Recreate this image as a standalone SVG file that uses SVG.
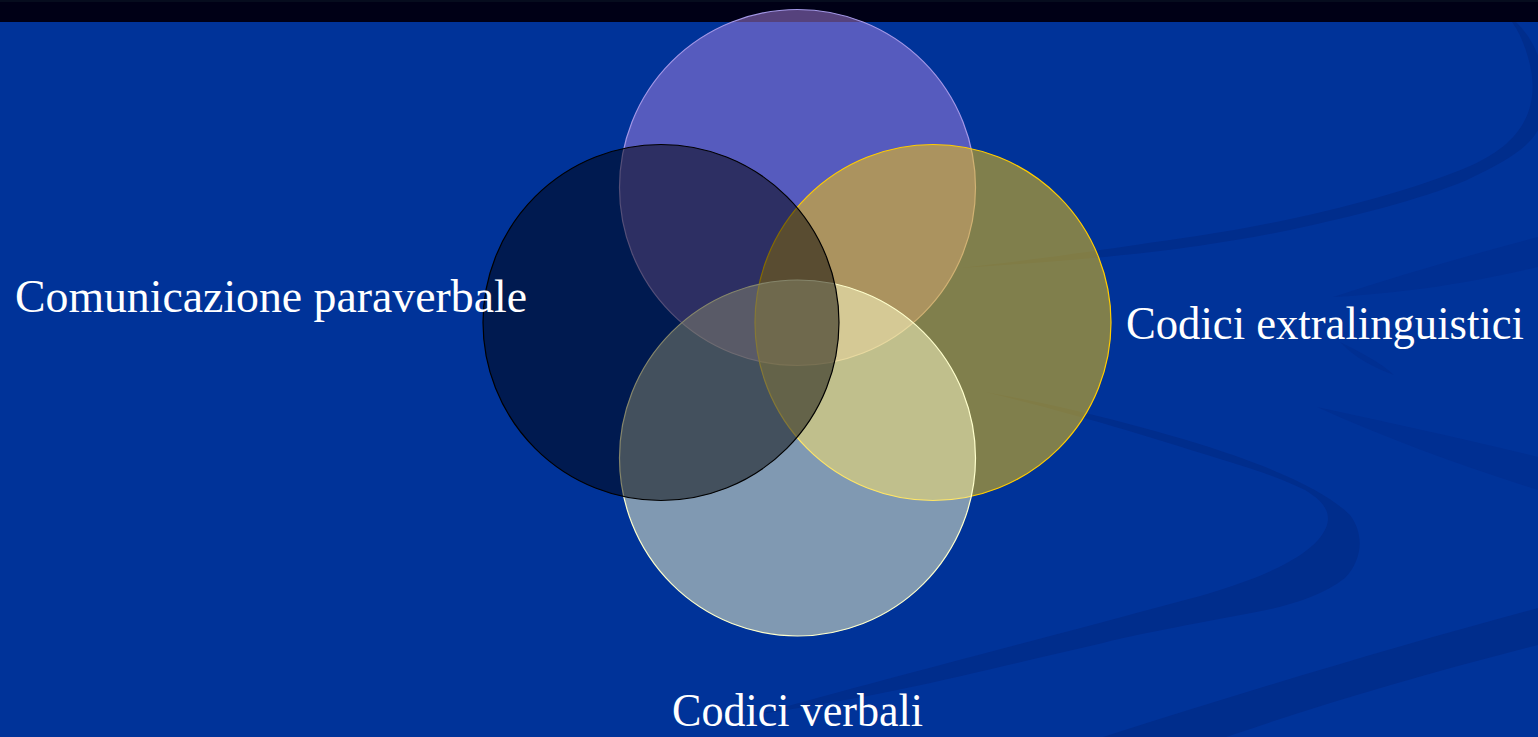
<svg xmlns="http://www.w3.org/2000/svg" width="1538" height="737" viewBox="0 0 1538 737">
  <style>
    .band { fill: #002D8C; }
    .faint { fill: #002F92; }
    .label { font-family: "Liberation Serif", "Times New Roman", serif; font-size: 46px; fill: #FFFFFF; }
    .c { stroke-width: 1.2; }
  </style>
  <rect x="0" y="0" width="1538" height="737" fill="#003399"/>
  <g id="background-swooshes">
    <path class="band" d="M 960,268 C 1050,258 1100,250 1197,236 C 1290,222 1400,196 1470,166 C 1530,140 1538,100 1530,65 C 1526,48 1520,33 1512,22 L 1516,22 C 1540,45 1548,80 1545,110 C 1540,140 1520,155 1467,180 C 1420,200 1350,217 1290,230 C 1200,248 1120,258 960,268 Z"/>
    <path class="band" d="M 985,392 C 1060,405 1160,430 1233,455 C 1290,475 1330,495 1350,515 C 1365,535 1362,560 1345,578 C 1320,598 1280,608 1246,614 C 1180,626 1120,638 1103,643 C 1000,666 900,694 760,714 C 880,680 1000,650 1185,600 C 1260,580 1300,560 1318,540 C 1335,520 1330,505 1305,490 C 1280,478 1250,468 1233,463 C 1150,437 1080,415 985,392 Z"/>
    <path class="band" d="M 1103,737 C 1250,690 1400,645 1538,608 L 1538,645 C 1420,675 1320,705 1226,737 Z"/>
    <path class="faint" d="M 1317,407 C 1400,425 1470,440 1538,457 L 1538,490 C 1460,465 1390,440 1317,407 Z"/>
    <path class="faint" d="M 1333,297 C 1400,275 1470,255 1538,237 L 1538,267 C 1480,280 1420,292 1333,297 Z"/>
    <path class="faint" d="M 1340,342 C 1360,352 1380,362 1394,375 C 1375,368 1355,358 1340,342 Z"/>
  </g>
  <rect x="0" y="0" width="1538" height="22" fill="#000016"/>
  <rect x="0" y="0" width="1538" height="2" fill="#060C1E"/>
  <g id="node-top">
    <circle class="c" cx="797.5" cy="187.5" r="178" fill="#AC83E3" fill-opacity="0.5" stroke="#A397E6"/>
  </g>
  <g id="node-right">
    <circle class="c" cx="933" cy="322.5" r="178" fill="#FFCC00" fill-opacity="0.5" stroke="#FFCC00"/>
    <text class="label" x="1126" y="339" textLength="398" lengthAdjust="spacingAndGlyphs">Codici extralinguistici</text>
  </g>
  <g id="node-bottom">
    <circle class="c" cx="797.5" cy="458" r="178" fill="#FFFFCC" fill-opacity="0.5" stroke="#FFFFCC"/>
    <text class="label" x="672" y="726" textLength="251" lengthAdjust="spacingAndGlyphs">Codici verbali</text>
  </g>
  <g id="node-left">
    <circle class="c" cx="661" cy="322.5" r="178" fill="#000000" fill-opacity="0.48" stroke="#000000"/>
    <text class="label" x="15" y="312" textLength="512" lengthAdjust="spacingAndGlyphs">Comunicazione paraverbale</text>
  </g>
  <g id="connectors"/>
</svg>
